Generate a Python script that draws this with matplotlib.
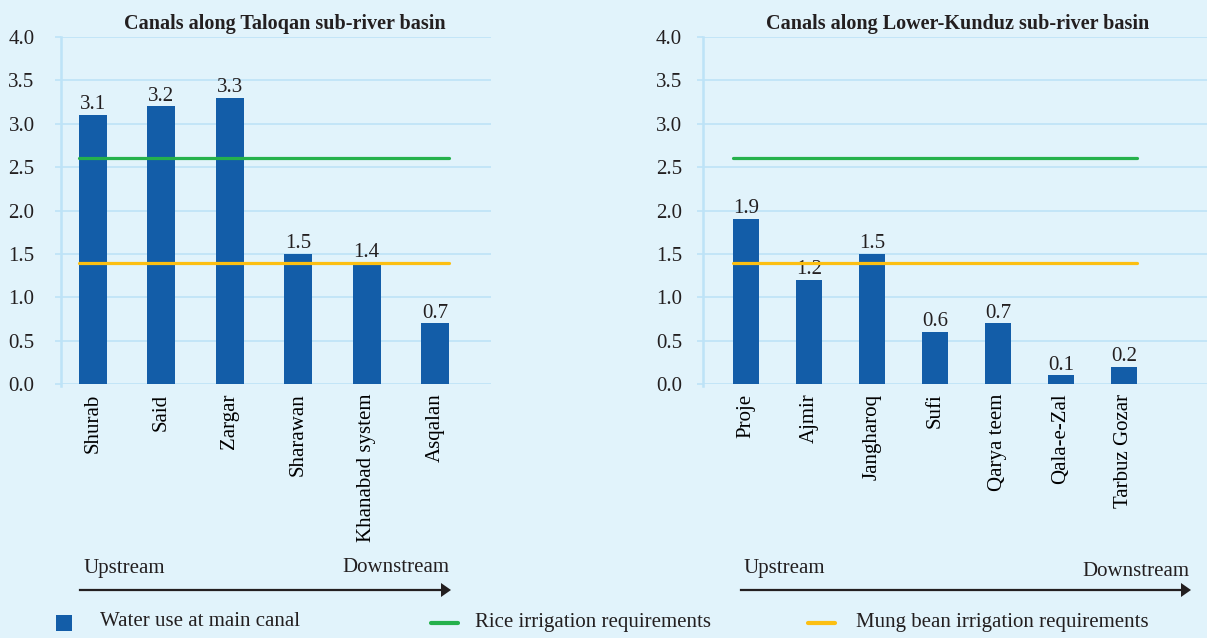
import matplotlib.pyplot as plt
from matplotlib.patches import Rectangle
from matplotlib.lines import Line2D

# water use at main canal intake, per canal (upstream -> downstream)
taloqan_canals = ['Shurab', 'Said', 'Zargar', 'Sharawan', 'Khanabad system', 'Asqalan']
taloqan_use = [3.1, 3.2, 3.3, 1.5, 1.4, 0.7]

kunduz_canals = ['Proje', 'Ajmir', 'Jangharoq', 'Sufi', 'Qarya teem', 'Qala-e-Zal', 'Tarbuz Gozar']
kunduz_use = [1.9, 1.2, 1.5, 0.6, 0.7, 0.1, 0.2]

rice_req = 2.61
mung_req = 1.39

y_ticks = [0.0, 0.5, 1.0, 1.5, 2.0, 2.5, 3.0, 3.5, 4.0]

BG = '#e1f3fb'
GRID = '#bde3f7'
BAR = '#135da8'
GREEN = '#25b14c'
YELLOW = '#fcbf12'
TXT = '#231f20'
FS = 15

plt.rcParams['font.family'] = ['Liberation Serif', 'DejaVu Serif']
plt.rcParams['text.color'] = TXT

W, H = 1207, 638
fig = plt.figure(figsize=(W / 100, H / 100), dpi=100, facecolor=BG)


def px_box(x0, x1, ytop, ybot):
    return [x0 / W, 1 - ybot / H, (x1 - x0) / W, (ybot - ytop) / H]


def draw_panel(rect, names, values, title, xlim, tickpad, title_x):
    ax = fig.add_axes(rect)
    ax.set_facecolor(BG)
    width = 0.41
    x = list(range(len(names)))
    bars = ax.bar(x, values, width=width, color=BAR, zorder=2)
    for b, v in zip(bars, values):
        ax.annotate(f'{v:.1f}', (b.get_x() + b.get_width() / 2, v),
                    xytext=(0, 0.5), textcoords='offset points',
                    ha='center', va='bottom', fontsize=FS, color=TXT)
    lo, hi = -width / 2, len(names) - 1 + width / 2
    ax.plot([lo, hi], [rice_req, rice_req], color=GREEN, lw=2.3, zorder=3,
            solid_capstyle='round')
    ax.plot([lo, hi], [mung_req, mung_req], color=YELLOW, lw=2.3, zorder=3,
            solid_capstyle='round')

    ax.set_xlim(*xlim)
    ax.set_ylim(0, 4.0)
    ax.set_yticks(y_ticks)
    ax.set_yticklabels([f'{t:.1f}' for t in y_ticks], fontsize=FS)
    ax.set_xticks(x)
    ax.set_xticklabels(names, rotation=90, fontsize=FS)
    ax.tick_params(axis='x', length=0, pad=7)
    ax.tick_params(axis='y', length=4, width=1.2, color=GRID, pad=tickpad,
                   labelcolor=TXT)
    ax.yaxis.grid(True, color=GRID, lw=1.2, zorder=0)
    for s in ['top', 'right', 'bottom']:
        ax.spines[s].set_visible(False)
    ax.spines['left'].set_color(GRID)
    ax.spines['left'].set_linewidth(1.8)
    ax.spines['left'].set_bounds(-0.02, 4.0)
    ax.set_title(title, fontsize=14.5, fontweight='bold', pad=6, x=title_x)
    return ax


draw_panel(px_box(61, 491, 37, 384), taloqan_canals, taloqan_use,
           'Canals along Taloqan sub-river basin', (-0.468, 5.82), 15, 0.52)
draw_panel(px_box(703, 1207, 37, 384), kunduz_canals, kunduz_use,
           'Canals along Lower-Kunduz sub-river basin', (-0.683, 7.32), 11, 0.505)


def fy(y):
    return 1 - y / H


# upstream / downstream arrows
for x0, x1, up_y, down_y in [(80, 451, 568, 568), (741, 1191, 569, 572)]:
    fig.add_artist(Line2D([x0 / W, (x1 - 8) / W], [fy(590), fy(590)],
                          color=TXT, lw=1.6))
    fig.add_artist(plt.Polygon([[(x1 - 10) / W, fy(583)], [x1 / W, fy(590)],
                                [(x1 - 10) / W, fy(597)]],
                               closed=True, color=TXT, lw=0))
    fig.text((x0 + 3) / W, fy(up_y), 'Upstream', fontsize=FS, ha='left', va='center')
    fig.text((x1 - 2) / W, fy(down_y), 'Downstream', fontsize=FS, ha='right', va='center')

# legend
fig.add_artist(Rectangle((56 / W, fy(631)), 16 / W, 16 / H, color=BAR, lw=0))
fig.text(100 / W, fy(622), 'Water use at main canal', fontsize=FS, va='center')
fig.add_artist(Line2D([431 / W, 458 / W], [fy(623), fy(623)], color=GREEN, lw=3,
                      solid_capstyle='round'))
fig.text(475 / W, fy(622), 'Rice irrigation requirements', fontsize=FS, va='center')
fig.add_artist(Line2D([808 / W, 835 / W], [fy(623), fy(623)], color=YELLOW, lw=3,
                      solid_capstyle='round'))
fig.text(856 / W, fy(622), 'Mung bean irrigation requirements', fontsize=FS, va='center')

fig.savefig('out.png', dpi=100, facecolor=BG)
